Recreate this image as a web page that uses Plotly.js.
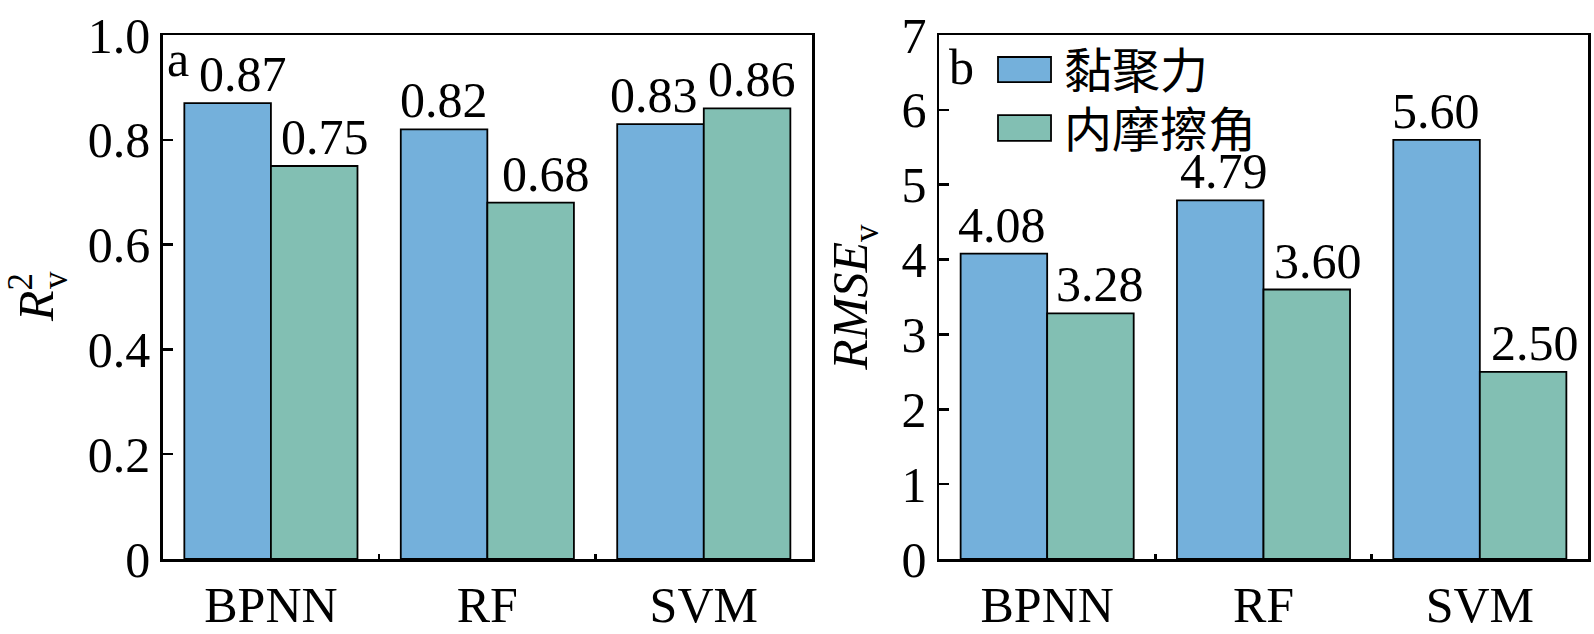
<!DOCTYPE html>
<html>
<head>
<meta charset="utf-8">
<script src="https://cdn.plot.ly/plotly-3.0.1.min.js"></script>
<style>html,body{margin:0;padding:0;background:#fff;}#chart{width:1594px;height:634px;}</style>
</head>
<body>
<div id="chart"></div>
<script>
// ---- data ----
const categories = ["BPNN", "RF", "SVM"];
const seriesNames = ["黏聚力", "内摩擦角"];
const r2Cohesion = [0.87, 0.82, 0.83];
const r2Friction = [0.75, 0.68, 0.86];
const rmseCohesion = [4.08, 4.79, 5.60];
const rmseFriction = [3.28, 3.60, 2.50];
const r2Ticks = [0, 0.2, 0.4, 0.6, 0.8, 1.0];
const r2TickText = ["0", "0.2", "0.4", "0.6", "0.8", "1.0"];
const rmseTicks = [0, 1, 2, 3, 4, 5, 6, 7];

// ---- style ----
const colors = ["#74B0DB", "#82BFB3"];
const serif = "Liberation Serif";
const fs = 50;
const bargap = 0.2;
// small horizontal nudges (px) of the value labels, as placed in the original figure
const labelNudge = {
  a: [[15, 0, -7], [11, 15, 5]],
  b: [[-2, 4, -1], [10, 11, 12]]
};

function barTrace(y, idx, xa, ya) {
  return {
    type: "bar", x: categories, y: y, name: seriesNames[idx],
    xaxis: xa, yaxis: ya,
    marker: {color: colors[idx], line: {color: "#000", width: 1.8}},
    showlegend: false, hoverinfo: "x+y"
  };
}

const data = [
  barTrace(r2Cohesion, 0, "x", "y"),
  barTrace(r2Friction, 1, "x", "y"),
  barTrace(rmseCohesion, 0, "x2", "y2"),
  barTrace(rmseFriction, 1, "x2", "y2")
];

const W = 1594;
const axCommon = {
  showline: true, mirror: true, linecolor: "#000", linewidth: 2.5,
  showgrid: false, zeroline: false, fixedrange: true,
  tickfont: {family: serif, size: fs, color: "#000"}
};
const xCommon = Object.assign({}, axCommon, {
  type: "category", tickson: "boundaries", ticks: "inside", ticklen: 5, tickwidth: 2.5,
  tickcolor: "#000"
});
const yCommon = Object.assign({}, axCommon, {
  ticks: "inside", ticklen: 10, tickwidth: 2.5, tickcolor: "#000"
});

const shapes = [];
const annotations = [];

// value labels above bars
const half = (1 - bargap) / 4;
function addLabels(series, xr, yr, nudges) {
  series.forEach((vals, s) => {
    vals.forEach((v, i) => {
      annotations.push({xref: xr, yref: yr, x: i + (s === 0 ? -half : half), y: v,
        xanchor: "center", yanchor: "bottom", yshift: -1, xshift: nudges[s][i],
        text: v.toFixed(2), showarrow: false,
        font: {family: serif, size: fs, color: "#000"}});
    });
  });
}
addLabels([r2Cohesion, r2Friction], "x", "y", labelNudge.a);
addLabels([rmseCohesion, rmseFriction], "x2", "y2", labelNudge.b);

// manual legend (large swatches)
const legY = [[0.958, 0.910], [0.847, 0.798]];
seriesNames.forEach((nm, i) => {
  shapes.push({type: "rect", xref: "x2 domain", yref: "y2 domain",
    x0: 0.0909, x1: 0.1726, y0: legY[i][1], y1: legY[i][0],
    fillcolor: colors[i], line: {color: "#000", width: 1.8}});
  annotations.push({xref: "x2 domain", yref: "y2 domain", x: 0.19,
    y: (legY[i][0] + legY[i][1]) / 2 + 0.004, xanchor: "left", yanchor: "middle",
    text: nm, showarrow: false,
    font: {family: "Noto Sans CJK SC", size: 48, color: "#000"}});
});
// panel letters
annotations.push({xref: "x domain", yref: "y domain", x: 0.004, y: 0.955,
  xanchor: "left", yanchor: "middle", text: "a", showarrow: false,
  font: {family: serif, size: fs, color: "#000"}});
annotations.push({xref: "x2 domain", yref: "y2 domain", x: 0.012, y: 0.938,
  xanchor: "left", yanchor: "middle", text: "b", showarrow: false,
  font: {family: serif, size: fs, color: "#000"}});
// subscript v of R², stacked under the superscript 2
annotations.push({xref: "paper", yref: "paper", x: 55 / W, y: (559 - 280) / 524,
  xanchor: "center", yanchor: "middle", textangle: -90, text: "v", showarrow: false,
  font: {family: serif, size: 35, color: "#000"}});

const layout = {
  width: W, height: 634,
  margin: {l: 0, r: 0, t: 35, b: 75},
  paper_bgcolor: "#fff", plot_bgcolor: "#fff",
  font: {family: serif, color: "#000"},
  barmode: "group", bargap: bargap, bargroupgap: 0,
  showlegend: false,
  xaxis: Object.assign({}, xCommon, {domain: [162.7 / W, 812 / W], anchor: "y"}),
  yaxis: Object.assign({}, yCommon, {
    range: [0, 1.0], tickvals: r2Ticks, ticktext: r2TickText, anchor: "x",
    title: {text: "<i>R</i><sup>2</sup>", font: {family: serif, size: fs, color: "#000"}, standoff: 18}
  }),
  xaxis2: Object.assign({}, xCommon, {domain: [939 / W, 1588 / W], anchor: "y2"}),
  yaxis2: Object.assign({}, yCommon, {
    range: [0, 7], tickvals: rmseTicks, anchor: "x2",
    title: {text: "<i>RMSE</i><sub>v</sub>", font: {family: serif, size: fs, color: "#000"}, standoff: 18}
  }),
  shapes: shapes,
  annotations: annotations
};

Plotly.newPlot("chart", data, layout, {displayModeBar: false, staticPlot: true});
</script>
</body>
</html>
